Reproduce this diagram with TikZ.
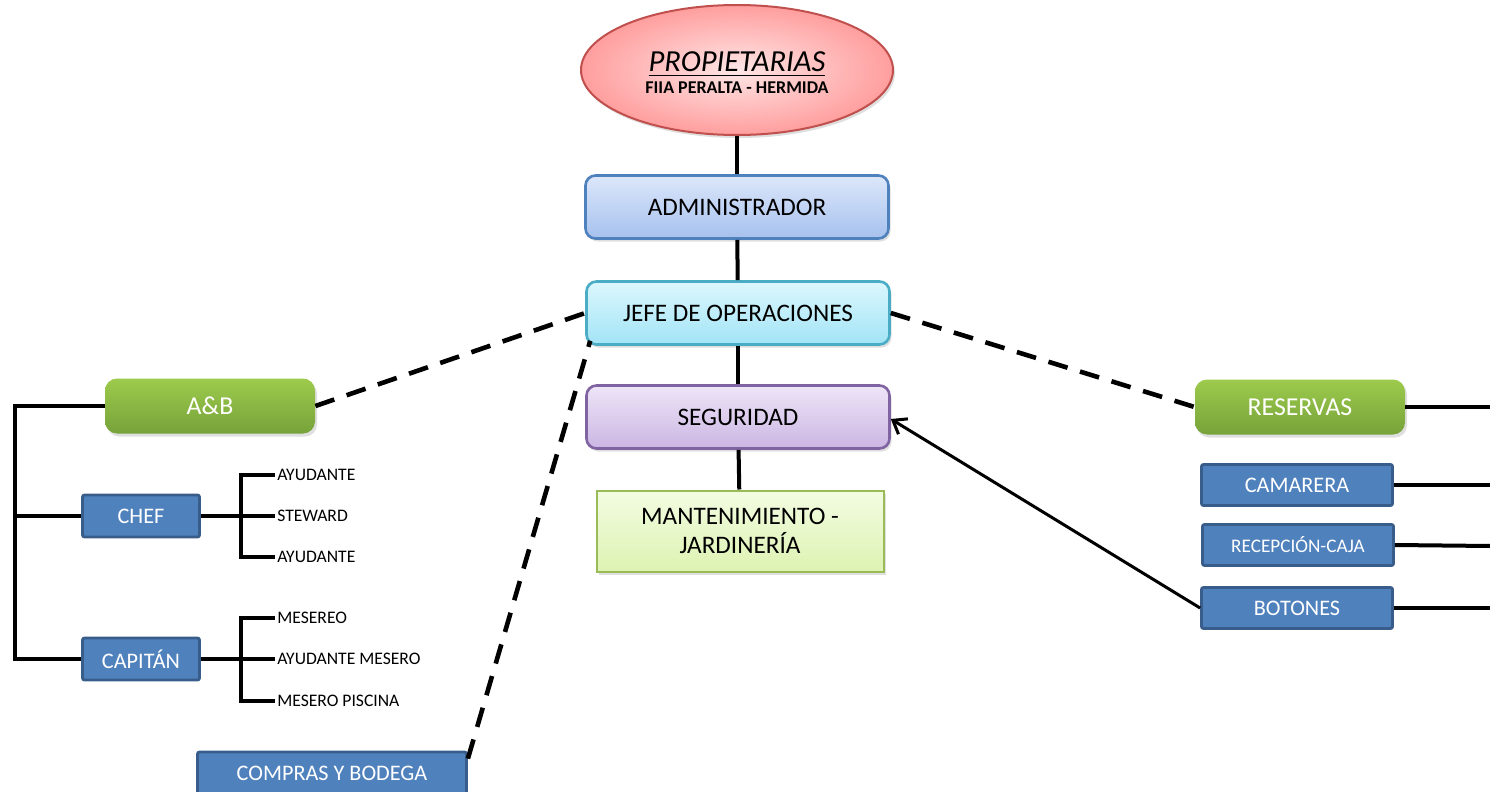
\documentclass[tikz,border=0pt]{standalone}
\usepackage{fontspec}
\setmainfont{Carlito}
\usetikzlibrary{arrows.meta,positioning,calc,shadows,shapes.geometric}
\definecolor{ownerline}{HTML}{C0504D}
\definecolor{admintop}{HTML}{DCE7FA}
\definecolor{adminbot}{HTML}{A6C1EE}
\definecolor{adminline}{HTML}{4F81BD}
\definecolor{jefetop}{HTML}{DCF7FD}
\definecolor{jefebot}{HTML}{A2E4F6}
\definecolor{jefeline}{HTML}{4BACC6}
\definecolor{segtop}{HTML}{EEE5F7}
\definecolor{segbot}{HTML}{CBB6E3}
\definecolor{segline}{HTML}{8064A2}
\definecolor{mantline}{HTML}{9BBB59}
\definecolor{manttop}{HTML}{F3FCE2}
\definecolor{mantbot}{HTML}{DDF3B2}
\definecolor{areatop}{HTML}{9DCB4C}
\definecolor{areabot}{HTML}{76A23A}
\definecolor{unitfill}{HTML}{4F81BD}
\definecolor{unitline}{HTML}{385D8A}
\tikzset{
  shade/.style={drop shadow={opacity=0.25, shadow xshift=1pt, shadow yshift=-1.5pt}},
  ownerbox/.style={ellipse, draw=ownerline, line width=1pt, inner sep=0pt,
    minimum width=156pt, minimum height=65pt, align=center,
    inner color=red!10, outer color=red!38, shade},
  headbox/.style={draw, rounded corners=5pt, line width=1.3pt, inner sep=0pt,
    minimum width=151.5pt, minimum height=31.5pt, align=center,
    font=\fontsize{12.6}{14.5}\selectfont, shade},
  areabox/.style={rounded corners=6pt, inner sep=0pt, minimum width=105pt,
    minimum height=27.5pt, top color=areatop, bottom color=areabot,
    text=white, font=\fontsize{12.9}{14}\selectfont, shade},
  unitbox/.style={draw=unitline, fill=unitfill, line width=1.4pt, rounded corners=1pt,
    inner sep=0pt, text=white, font=\fontsize{11.1}{12}\selectfont},
  leaf/.style={anchor=west, inner sep=1pt, font=\fontsize{8.8}{10}\selectfont},
  link/.style={line width=2pt},
  dashlink/.style={line width=2.3pt, dash pattern=on 10pt off 6.5pt},
  report/.style={line width=1.5pt, -{Straight Barb[length=6pt,width=9pt,line width=1.5pt]}}
}
\begin{document}
\begin{tikzpicture}[x=0.5pt, y=-0.5pt]
\useasboundingbox (0,0) rectangle (1490,792);
% central column
\node[ownerbox] (own) at (737,70) {\fontsize{15.3}{17}\selectfont\rule{0pt}{13pt}\underline{\textit{PROPIETARIAS}}\\[-1pt]
  \fontsize{9}{10}\selectfont\bfseries FIIA PERALTA - HERMIDA};
\node[headbox, draw=adminline, top color=admintop, bottom color=adminbot] (adm) at (737,207) {ADMINISTRADOR};
\node[headbox, draw=jefeline, top color=jefetop, bottom color=jefebot] (jefe) at (738,313) {JEFE DE OPERACIONES};
\node[headbox, draw=segline, top color=segtop, bottom color=segbot] (seg) at (738,417) {SEGURIDAD};
\node[headbox, draw=mantline, rounded corners=0pt, line width=1pt, minimum width=143.5pt,
  minimum height=40.5pt, top color=manttop, bottom color=mantbot] (mant) at (740,531) {MANTENIMIENTO -\\JARDINERÍA};
\draw[link] (own) -- (adm);
\draw[link] (adm) -- (jefe);
\draw[link] (jefe) -- (seg);
\draw[link] (seg) -- (mant);

% left branch
\node[areabox] (ab) at (210,406) {A\&B};
\node[unitbox, minimum width=58.5pt, minimum height=21pt] (chef) at (141,516) {CHEF};
\node[unitbox, minimum width=58.5pt, minimum height=21pt] (cap) at (141,659) {CAPITÁN};
\node[unitbox, minimum width=134.5pt, minimum height=21pt] (comp) at (332,773) {COMPRAS Y BODEGA};
\coordinate (spine) at (15,406);
\draw[link] (ab.west) -- (spine) |- (cap.west);
\draw[link] (spine |- chef) -- (chef.west);
\draw[dashlink] (ab.east) -- (jefe.west);
\draw[dashlink] ($(comp.north east)+(0,8)$) -- ($(jefe.south west)+(5,-5)$);

% chef team
\path (chef.east) ++(40,0) coordinate (cfork);
\node[leaf, right=17pt of cfork, yshift=20.5pt] (ay1) {AYUDANTE};
\node[leaf, right=17pt of cfork] (stw) {STEWARD};
\node[leaf, right=17pt of cfork, yshift=-20.5pt] (ay2) {AYUDANTE};
\draw[link] (chef.east) -- (cfork);
\draw[link] (ay1.west) -| (cfork) |- (ay2.west);
\draw[link] (cfork) -- (stw.west);

% capitan team
\path (cap.east) ++(40,0) coordinate (kfork);
\node[leaf, right=17pt of kfork, yshift=20.5pt] (mes) {MESEREO};
\node[leaf, right=17pt of kfork] (aym) {AYUDANTE MESERO};
\node[leaf, right=17pt of kfork, yshift=-21pt] (pis) {MESERO PISCINA};
\draw[link] (cap.east) -- (kfork);
\draw[link] (mes.west) -| (kfork) |- (pis.west);
\draw[link] (kfork) -- (aym.west);

% right branch
\node[areabox] (res) at (1300,407) {RESERVAS};
\node[unitbox, minimum width=95.5pt, minimum height=20.5pt] (cam) at (1297,485) {CAMARERA};
\node[unitbox, minimum width=95.5pt, minimum height=20.5pt, font=\fontsize{9.6}{10}\selectfont] (rec) at (1298,545) {RECEPCIÓN-CAJA};
\node[unitbox, minimum width=95.5pt, minimum height=20.5pt] (bot) at (1297,608) {BOTONES};
\coordinate (resout) at (1490,407);
\coordinate (camout) at (1490,485);
\coordinate (recout) at (1490,546);
\coordinate (botout) at (1490,608);
\draw[dashlink] (jefe.east) -- (res.west);
\draw[link] (res.east) -- (resout);
\draw[link] (cam.east) -- (camout);
\draw[link] (rec.east) -- (recout);
\draw[link] (bot.east) -- (botout);
\draw[report] (bot.west) -- ($(seg.east)+(0,2)$);
\end{tikzpicture}
\end{document}
